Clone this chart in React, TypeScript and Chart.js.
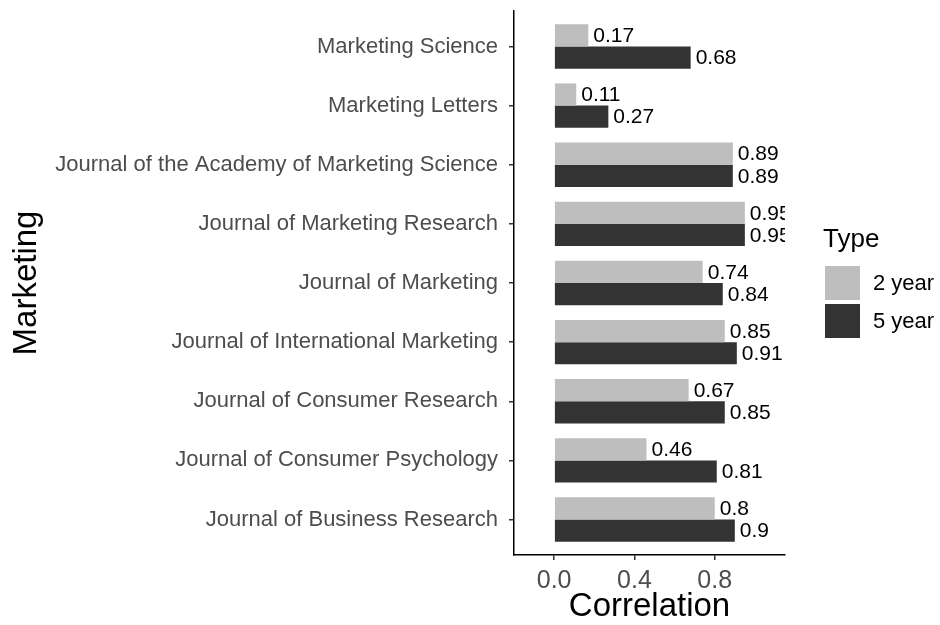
import React, { useEffect, useRef } from 'react';
import { Chart, registerables } from 'chart.js';

Chart.register(...registerables);

const categories = [
  'Marketing Science',
  'Marketing Letters',
  'Journal of the Academy of Marketing Science',
  'Journal of Marketing Research',
  'Journal of Marketing',
  'Journal of International Marketing',
  'Journal of Consumer Research',
  'Journal of Consumer Psychology',
  'Journal of Business Research',
];
const twoYear = [0.17, 0.11, 0.89, 0.95, 0.74, 0.85, 0.67, 0.46, 0.8];
const fiveYear = [0.68, 0.27, 0.89, 0.95, 0.84, 0.91, 0.85, 0.81, 0.9];
const seriesLabels = ['2 year', '5 year'];
const seriesColors = ['#BEBEBE', '#333333'];
const xTickValues = [0, 0.4, 0.8];
const legendTitle = 'Type';
const xTitle = 'Correlation';
const yTitle = 'Marketing';

const FONT = '"Liberation Sans", Arial, Helvetica, sans-serif';

const valueLabels = {
  id: 'valueLabels',
  afterDatasetsDraw(chart: any) {
    const { ctx, chartArea } = chart;
    ctx.save();
    ctx.beginPath();
    ctx.rect(chartArea.left, chartArea.top, chartArea.right - chartArea.left, chartArea.bottom - chartArea.top);
    ctx.clip();
    ctx.font = `21px ${FONT}`;
    ctx.fillStyle = '#000000';
    ctx.textAlign = 'left';
    ctx.textBaseline = 'middle';
    chart.data.datasets.forEach((ds: any, di: number) => {
      const meta = chart.getDatasetMeta(di);
      meta.data.forEach((el: any, i: number) => {
        const v = ds.data[i].x;
        ctx.fillText(String(v), el.x + 5, el.y + 1);
      });
    });
    ctx.restore();
  },
};

const sideLegend = {
  id: 'sideLegend',
  afterDraw(chart: any) {
    const { ctx, chartArea } = chart;
    const x0 = chartArea.right + 38;
    ctx.save();
    ctx.fillStyle = '#000000';
    ctx.textAlign = 'left';
    ctx.textBaseline = 'alphabetic';
    ctx.font = `26px ${FONT}`;
    ctx.fillText(legendTitle, x0, 247);
    chart.data.datasets.forEach((ds: any, i: number) => {
      const top = 266 + i * 38;
      ctx.fillStyle = ds.backgroundColor;
      ctx.fillRect(x0 + 2, top, 35, 34);
      ctx.fillStyle = '#000000';
      ctx.font = `22px ${FONT}`;
      ctx.textBaseline = 'middle';
      ctx.fillText(ds.label, x0 + 50, top + 18);
    });
    ctx.restore();
  },
};

export default function App() {
  const ref = useRef<HTMLCanvasElement | null>(null);

  useEffect(() => {
    if (!ref.current) return;
    Chart.defaults.font.family = FONT;
    const chart = new Chart(ref.current, {
      type: 'bar',
      data: {
        datasets: [
          {
            label: seriesLabels[0],
            data: twoYear.map((v, i) => ({ x: v, y: i })),
            backgroundColor: seriesColors[0],
            borderWidth: 0,
            categoryPercentage: 0.75,
            barPercentage: 1,
          },
          {
            label: seriesLabels[1],
            data: fiveYear.map((v, i) => ({ x: v, y: i })),
            backgroundColor: seriesColors[1],
            borderWidth: 0,
            categoryPercentage: 0.75,
            barPercentage: 1,
          },
        ],
      },
      options: {
        indexAxis: 'y',
        animation: false,
        responsive: false,
        events: [],
        layout: { padding: { top: 11, right: 155, left: 0, bottom: 0 } },
        plugins: {
          legend: { display: false },
          tooltip: { enabled: false },
        },
        scales: {
          x: {
            type: 'linear',
            position: 'bottom',
            min: -0.2,
            max: 1.15,
            offset: false,
            afterBuildTicks: (scale: any) => {
              scale.ticks = xTickValues.map((v) => ({ value: v }));
            },
            afterFit: (scale: any) => {
              scale.height = 70;
              scale.paddingLeft = 0;
              scale.paddingRight = 0;
            },
            ticks: {
              color: '#4D4D4D',
              font: { size: 25 },
              padding: 6,
              callback: (v: any) => Number(v).toFixed(1),
            },
            grid: {
              offset: false,
              drawOnChartArea: false,
              drawTicks: true,
              tickLength: 5,
              color: '#333333',
              lineWidth: 1.5,
            },
            border: { display: true, color: '#000000', width: 1.5 },
            title: {
              display: true,
              text: xTitle,
              color: '#000000',
              font: { size: 33, lineHeight: 1.1 },
              padding: { top: 0, bottom: 0 },
            },
          },
          y: {
            type: 'linear',
            position: 'left',
            reverse: true,
            offset: false,
            min: -0.6,
            max: categories.length - 1 + 0.6,
            afterBuildTicks: (scale: any) => {
              scale.ticks = categories.map((_, i) => ({ value: i }));
            },
            afterFit: (scale: any) => {
              scale.width = 514;
              scale.paddingTop = 0;
              scale.paddingBottom = 0;
            },
            ticks: {
              color: '#4D4D4D',
              font: { size: 22 },
              padding: 11,
              autoSkip: false,
              callback: (v: any) => categories[Number(v)] ?? '',
            },
            grid: {
              offset: false,
              drawOnChartArea: false,
              drawTicks: true,
              tickLength: 5,
              color: '#333333',
              lineWidth: 1.5,
            },
            border: { display: true, color: '#000000', width: 1.5 },
            title: {
              display: true,
              text: yTitle,
              color: '#000000',
              font: { size: 33, lineHeight: 1.2 },
              padding: { top: 7, bottom: 0 },
            },
          },
        },
      },
      plugins: [valueLabels, sideLegend],
    } as any);
    return () => chart.destroy();
  }, []);

  return (
    <div style={{ position: 'absolute', left: 0, top: 0, width: 940, height: 625, background: '#ffffff' }}>
      <canvas ref={ref} width={940} height={625} style={{ display: 'block' }} />
    </div>
  );
}
